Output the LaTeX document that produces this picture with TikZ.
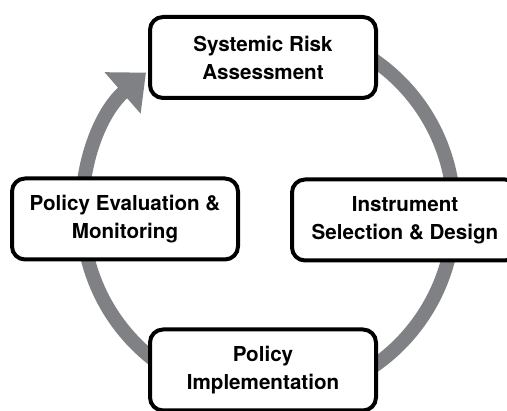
\documentclass[tikz,border=0pt]{standalone}
\usepackage{fontspec}
\setmainfont{TeX Gyre Heros}
\usetikzlibrary{arrows.meta,positioning}
\definecolor{ringgray}{HTML}{808184}

\begin{document}
\begin{tikzpicture}[x=1pt, y=1pt, >={Triangle[length=31pt,width=53pt]}]
    % Styles
    \tikzstyle{stage} = [rectangle, draw, fill=white, line width=4pt, rounded corners=13pt, minimum width=226pt, minimum height=81pt, align=center, font=\bfseries\fontsize{20.6}{28}\selectfont]
    \tikzstyle{ring} = [draw=ringgray, line width=14pt]

    \useasboundingbox (0,0) rectangle (507,411);

    % Ring
    \coordinate (hub) at (268,198);
    \draw [ring, ->, ringgray] ([shift={(100:186)}]hub) arc [start angle=100, end angle=-229, radius=186];

    % Nodes
    \node [stage] (assess) at (263,353.5) {Systemic Risk\\Assessment};
    \node [stage] (design) at (405,191) {Instrument\\Selection \& Design};
    \node [stage] (implement) at (263,41) {Policy\\Implementation};
    \node [stage] (evaluate) at (125,192) {Policy Evaluation \&\\Monitoring};

\end{tikzpicture}
\end{document}
